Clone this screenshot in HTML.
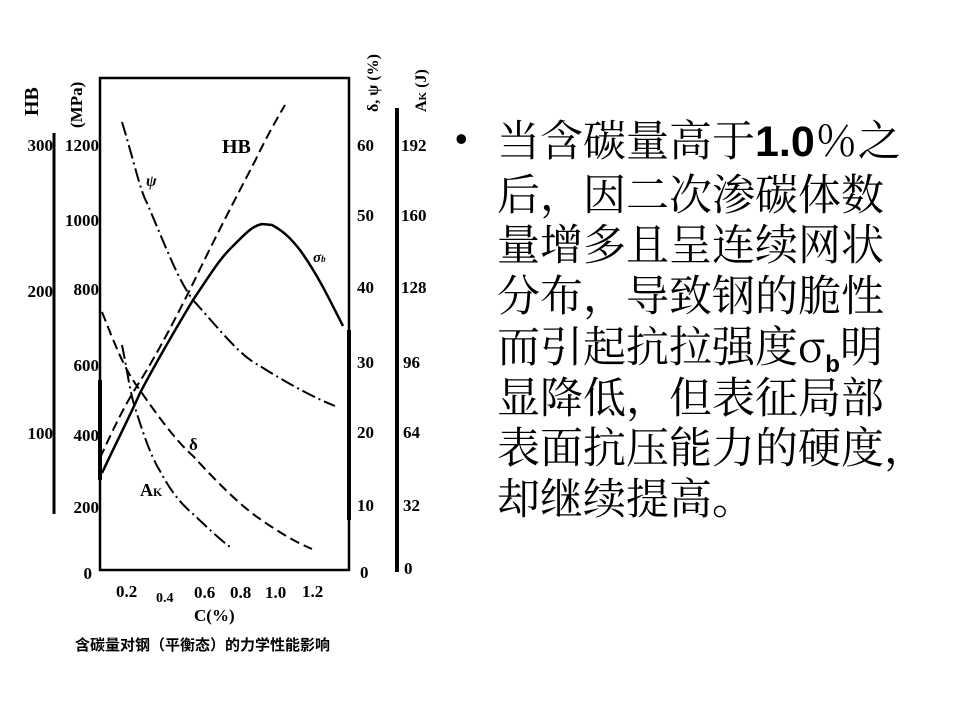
<!DOCTYPE html>
<html><head><meta charset="utf-8"><style>
html,body{margin:0;padding:0;background:#fff;}
body{width:960px;height:720px;position:relative;overflow:hidden;}
.t{position:absolute;left:497px;top:114px;font-family:"Noto Serif CJK SC","WenQuanYi Zen Hei",serif;font-size:43px;line-height:50.7px;color:#000;white-space:nowrap;}
.t b{font-family:"Liberation Sans",sans-serif;}
.sb{font-size:24px;font-family:"Liberation Sans",sans-serif;font-weight:bold;position:relative;top:10px;line-height:0;}
.bul{position:absolute;left:455px;top:113px;font-size:36px;line-height:51px;font-family:"Liberation Sans",sans-serif;}
</style></head><body>
<svg width="960" height="720" style="position:absolute;left:0;top:0" font-family="Liberation Serif, serif" font-weight="bold">
<g fill="none" stroke="#000">
<rect x="100" y="78" width="249" height="492" stroke-width="2.5"/>
<line x1="54" y1="133" x2="54" y2="514" stroke-width="3"/>
<line x1="397" y1="108" x2="397" y2="572" stroke-width="4"/>
<line x1="100" y1="380" x2="100" y2="480" stroke-width="4"/>
<line x1="349" y1="330" x2="349" y2="520" stroke-width="4"/>
<path d="M122,122 C135,165 140,190 147,203 C165,245 178,280 193,300 C220,330 240,356 260,366 C290,385 315,398 335,406" stroke-width="2" stroke-dasharray="14,4,2,4"/>
<path d="M100,458 C115,425 125,405 137,386 C160,350 185,300 200,269 C225,218 240,190 255,161 C265,140 275,122 285,105" stroke-width="2" stroke-dasharray="10,5"/>
<path d="M102,473 C115,445 128,420 140,393 C160,355 178,325 193,300 C210,275 220,258 233,246 C245,234 252,226 262,224 L272,225 C285,232 292,240 300,250 C320,278 332,305 343,326" stroke-width="2.5"/>
<path d="M102,312 C115,345 125,370 137,386 C155,412 175,440 193,456 C215,480 235,500 253,514 C275,530 295,542 312,549" stroke-width="2" stroke-dasharray="10,5"/>
<path d="M122,345 C127,370 129,385 133,401 C142,430 150,455 160,471 C170,490 180,503 193,514 C205,525 218,538 230,547" stroke-width="2" stroke-dasharray="14,4,2,4"/>
</g>
<g font-size="17" fill="#000">
<text x="222" y="153" font-size="20">HB</text>
<text x="146" y="186" font-size="16" font-style="italic">ψ</text>
<text x="313" y="262" font-size="15" font-style="italic">σ<tspan font-size="9">b</tspan></text>
<text x="189" y="450" font-size="17">δ</text>
<text x="140" y="496" font-size="18">A<tspan font-size="12">K</tspan></text>
<g text-anchor="end" font-size="17">
<text x="53" y="151">300</text><text x="53" y="297">200</text><text x="53" y="439">100</text>
<text x="99" y="151">1200</text><text x="99" y="226">1000</text><text x="99" y="295">800</text><text x="99" y="371">600</text><text x="99" y="441">400</text><text x="99" y="513">200</text><text x="92" y="579">0</text>
</g>
<g font-size="17">
<text x="357" y="151">60</text><text x="357" y="221">50</text><text x="357" y="293">40</text><text x="357" y="368">30</text><text x="357" y="438">20</text><text x="357" y="511">10</text><text x="360" y="578">0</text>
<text x="401" y="151">192</text><text x="401" y="221">160</text><text x="401" y="293">128</text><text x="403" y="368">96</text><text x="403" y="438">64</text><text x="403" y="511">32</text><text x="404" y="574">0</text>
</g>
<g font-size="17">
<text x="116" y="597">0.2</text><text x="156" y="602" font-size="14">0.4</text><text x="194" y="598">0.6</text><text x="230" y="598">0.8</text><text x="265" y="598">1.0</text><text x="302" y="597">1.2</text>
<text x="194" y="621">C(%)</text>
</g>
<text transform="translate(38,116) rotate(-90)" font-size="20">HB</text>
<text transform="translate(82,128) rotate(-90)" font-size="17">(MPa)</text>
<text transform="translate(378,112) rotate(-90)" font-size="16">δ, ψ (%)</text>
<text transform="translate(426,112) rotate(-90)" font-size="16">A<tspan font-size="11">K</tspan> (J)</text>
<text x="75" y="650" font-size="15" font-family="Noto Sans CJK SC, sans-serif">含碳量对钢（平衡态）的力学性能影响</text>
</g>
</svg>
<div class="bul">•</div>
<div class="t">当含碳量高于<b>1.0</b>％之<br>后，因二次渗碳体数<br>量增多且呈连续网状<br>分布，导致钢的脆性<br>而引起抗拉强度σ<span class="sb">b</span>明<br>显降低，但表征局部<br>表面抗压能力的硬度，<br>却继续提高。</div>
</body></html>
